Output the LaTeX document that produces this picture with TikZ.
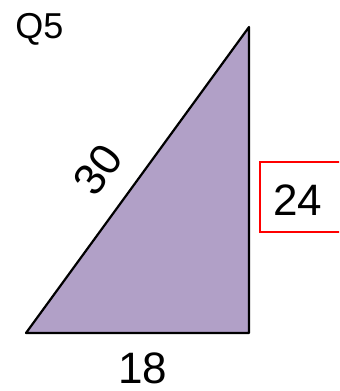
\documentclass[tikz,border=0pt]{standalone}
\usepackage{fontspec}
\setmainfont{Liberation Sans}
\definecolor{trifill}{HTML}{B1A0C7}
\definecolor{boxred}{HTML}{FF0000}
\begin{document}
\begin{tikzpicture}[x=0.5pt,y=-0.5pt,font=\fontsize{22}{26}\selectfont]
  \useasboundingbox (0,0) rectangle (339,391);
  \clip (0,0) rectangle (339,391);
  % triangle corners
  \coordinate (A) at (26,333);
  \coordinate (B) at (249,333);
  \coordinate (C) at (249,27);
  \filldraw[fill=trifill,draw=black,line width=1.1pt,line join=round] (A)--(B)--(C)--cycle;
  \node[font=\fontsize{18}{22}\selectfont,anchor=base] (q) at (39.5,39) {Q5};
  \node[rotate=54,inner sep=0pt] (hyp) at (98,170) {30};
  \node[anchor=base] (base) at (142.5,383) {18};
  \draw[boxred,line width=0.6pt] (345,162) -- (260,162) -- (260,232) -- (345,232);
  \node[anchor=base] (side) at (297.5,215) {24};
\end{tikzpicture}
\end{document}
